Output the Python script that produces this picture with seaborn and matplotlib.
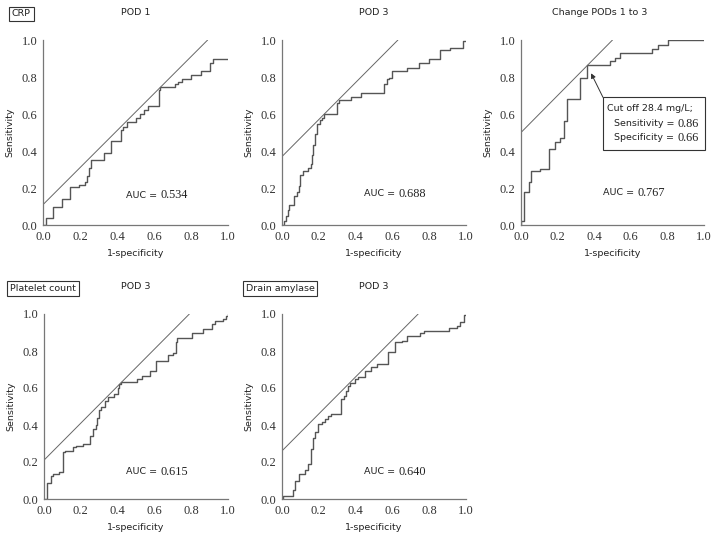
# ROC curves for CRP, platelet count and drain amylase (5 panels)
import pandas as pd
import seaborn as sns
from matplotlib import pyplot as plt
from matplotlib.patches import Rectangle

sns.set_theme(style="white")
plt.rcParams['font.family'] = ['DejaVu Sans']

# ---- data ------------------------------------------------------------
crp_pod1_fpr = [0, 0.018, 0.054, 0.105, 0.145, 0.195, 0.225, 0.24, 0.25, 0.262,
                0.331, 0.367, 0.421, 0.43, 0.452, 0.50, 0.525, 0.545, 0.565,
                0.625, 0.635, 0.711, 0.729, 0.752, 0.80, 0.852, 0.904, 0.918, 1.0]
crp_pod1_tpr = [0, 0.036, 0.10, 0.141, 0.205, 0.217, 0.23, 0.265, 0.31, 0.35,
                0.39, 0.453, 0.516, 0.53, 0.558, 0.58, 0.60, 0.62, 0.643,
                0.73, 0.745, 0.76, 0.774, 0.79, 0.81, 0.833, 0.873, 0.896, 0.896]

crp_pod3_fpr = [0, 0.01, 0.02, 0.03, 0.04, 0.065, 0.08, 0.09, 0.10, 0.115, 0.14,
                0.155, 0.165, 0.17, 0.18, 0.19, 0.205, 0.215, 0.23, 0.30, 0.31,
                0.375, 0.43, 0.556, 0.569, 0.582, 0.60, 0.678, 0.742, 0.80,
                0.856, 0.914, 0.982, 1.0]
crp_pod3_tpr = [0, 0.02, 0.05, 0.08, 0.11, 0.155, 0.18, 0.21, 0.27, 0.29, 0.31,
                0.33, 0.38, 0.43, 0.49, 0.545, 0.565, 0.58, 0.60, 0.66, 0.675,
                0.69, 0.715, 0.76, 0.787, 0.796, 0.832, 0.847, 0.874, 0.90,
                0.946, 0.959, 0.993, 0.993]

crp_change_fpr = [0, 0.0, 0.018, 0.042, 0.055, 0.105, 0.151, 0.187, 0.214, 0.233,
                  0.25, 0.32, 0.36, 0.484, 0.516, 0.542, 0.718, 0.75, 0.805, 1.0]
crp_change_tpr = [0, 0.02, 0.18, 0.23, 0.29, 0.305, 0.41, 0.45, 0.47, 0.56,
                  0.68, 0.795, 0.863, 0.887, 0.905, 0.932, 0.95, 0.974, 1.0, 1.0]

platelet_fpr = [0, 0.018, 0.036, 0.05, 0.083, 0.101, 0.114, 0.159, 0.174, 0.213,
                0.25, 0.265, 0.28, 0.29, 0.30, 0.31, 0.33, 0.35, 0.38, 0.40,
                0.41, 0.421, 0.503, 0.53, 0.575, 0.611, 0.675, 0.70, 0.716,
                0.725, 0.806, 0.864, 0.915, 0.927, 0.973, 0.991, 1.0]
platelet_tpr = [0, 0.087, 0.126, 0.135, 0.148, 0.252, 0.261, 0.279, 0.288, 0.297,
                0.34, 0.38, 0.40, 0.44, 0.48, 0.50, 0.53, 0.55, 0.57, 0.60,
                0.62, 0.635, 0.649, 0.667, 0.694, 0.748, 0.777, 0.79, 0.847,
                0.87, 0.90, 0.919, 0.946, 0.964, 0.973, 0.991, 1.0]

amylase_fpr = [0, 0.006, 0.06, 0.07, 0.09, 0.127, 0.142, 0.155, 0.16, 0.17,
               0.178, 0.193, 0.215, 0.236, 0.25, 0.265, 0.32, 0.338, 0.35, 0.36,
               0.37, 0.396, 0.415, 0.45, 0.484, 0.515, 0.578, 0.615, 0.65,
               0.678, 0.75, 0.77, 0.909, 0.95, 0.965, 0.99, 1.0]
amylase_tpr = [0, 0.018, 0.05, 0.095, 0.135, 0.158, 0.19, 0.20, 0.27, 0.33,
               0.364, 0.405, 0.414, 0.43, 0.45, 0.457, 0.54, 0.555, 0.585, 0.61,
               0.627, 0.647, 0.658, 0.694, 0.712, 0.73, 0.793, 0.847, 0.856,
               0.883, 0.90, 0.91, 0.922, 0.937, 0.955, 0.995, 0.995]

# intercepts of the slope-1 tangent lines (Youden index)
tangent_intercepts = [0.11, 0.37, 0.50, 0.21, 0.26]
auc_values = [0.534, 0.688, 0.767, 0.615, 0.640]
panel_titles = ["POD 1", "POD 3", "Change PODs 1 to 3", "POD 3", "POD 3"]
ticks = [0.0, 0.2, 0.4, 0.6, 0.8, 1.0]

# ---- figure ------------------------------------------------------------
W, H = 716, 539
fig = plt.figure(figsize=(W / 100, H / 100), dpi=100)


def px_axes(left, top, width, height):
    return fig.add_axes([left / W, 1 - (top + height) / H, width / W, height / H])


axes = [
    px_axes(43, 40, 185, 185),
    px_axes(282, 40, 184, 185),
    px_axes(521, 40, 183, 185),
    px_axes(44, 314, 184, 185),
    px_axes(282, 314, 184, 185),
]

curves = [
    (crp_pod1_fpr, crp_pod1_tpr),
    (crp_pod3_fpr, crp_pod3_tpr),
    (crp_change_fpr, crp_change_tpr),
    (platelet_fpr, platelet_tpr),
    (amylase_fpr, amylase_tpr),
]

SERIF = ['Liberation Serif', 'DejaVu Serif']
TXT = '#222222'
SANS_SIZE = 6.8
NUM_SIZE = 8.8
title_x = [0.5, 0.5, 0.43, 0.5, 0.5]
auc_y = [0.162, 0.17, 0.175, 0.148, 0.148]

for i, ax in enumerate(axes):
    fpr, tpr = curves[i]
    roc = pd.DataFrame({'fpr': fpr, 'tpr': tpr})
    sns.lineplot(data=roc, x='fpr', y='tpr', ax=ax, sort=False, estimator=None,
                 drawstyle='steps-post', color='#555555', linewidth=1.0)

    # tangent line y = x + c
    c = tangent_intercepts[i]
    sns.lineplot(x=[0, 1 - c], y=[c, 1], ax=ax, color='#666666',
                 linewidth=0.7, estimator=None)

    ax.set_xlim(0, 1)
    ax.set_ylim(0, 1)
    ax.set_xticks(ticks)
    ax.set_yticks(ticks)
    ax.set_xticklabels(['%.1f' % t for t in ticks], family=SERIF, fontsize=9, color='#333333')
    ax.set_yticklabels(['%.1f' % t for t in ticks], family=SERIF, fontsize=9, color='#333333')
    ax.tick_params(direction='in', length=3, width=0.8, color='#666666', pad=4)
    for side in ['top', 'right']:
        ax.spines[side].set_visible(False)
    for side in ['left', 'bottom']:
        ax.spines[side].set_color('#777777')
        ax.spines[side].set_linewidth(0.9)

    ax.set_xlabel('1-specificity', fontsize=SANS_SIZE, color=TXT)
    ax.set_ylabel('Sensitivity', fontsize=SANS_SIZE, color=TXT)
    ax.xaxis.set_label_coords(0.5, -0.13)
    ax.yaxis.set_label_coords(-0.157, 0.5)

    ax.text(title_x[i], 1.146, panel_titles[i], transform=ax.transAxes,
            ha='center', va='center', fontsize=SANS_SIZE, color=TXT)

    ax.text(0.633, auc_y[i], 'AUC = ', transform=ax.transAxes,
            ha='right', va='center', fontsize=SANS_SIZE, color=TXT)
    ax.text(0.635, auc_y[i], '%.3f' % auc_values[i], transform=ax.transAxes,
            ha='left', va='center', fontsize=NUM_SIZE, family=SERIF, color=TXT)

# cut-off annotation in the change panel
ax = axes[2]
ax.add_patch(Rectangle((0.448, 0.405), 0.557, 0.285, transform=ax.transAxes,
                       fill=False, edgecolor='#333333', linewidth=0.8, clip_on=False))
ax.annotate('', xy=(0.383, 0.82), xytext=(0.448, 0.69),
            arrowprops=dict(arrowstyle='-|>', color='#333333', lw=0.7,
                            mutation_scale=7, shrinkA=0, shrinkB=0))
ax.text(0.47, 0.63, 'Cut off 28.4 mg/L;', transform=ax.transAxes,
        ha='left', va='center', fontsize=SANS_SIZE, color=TXT)
ax.text(0.855, 0.548, 'Sensitivity = ', transform=ax.transAxes,
        ha='right', va='center', fontsize=SANS_SIZE, color=TXT)
ax.text(0.857, 0.548, '0.86', transform=ax.transAxes,
        ha='left', va='center', fontsize=NUM_SIZE, family=SERIF, color=TXT)
ax.text(0.855, 0.472, 'Specificity = ', transform=ax.transAxes,
        ha='right', va='center', fontsize=SANS_SIZE, color=TXT)
ax.text(0.857, 0.472, '0.66', transform=ax.transAxes,
        ha='left', va='center', fontsize=NUM_SIZE, family=SERIF, color=TXT)

# boxed marker labels
box = dict(boxstyle='square,pad=0.3', facecolor='white', edgecolor='#333333', linewidth=0.8)
fig.text(21.5 / W, 1 - 14 / H, 'CRP', ha='center', va='center', fontsize=SANS_SIZE,
         color=TXT, bbox=box)
fig.text(43 / W, 1 - 288.5 / H, 'Platelet count', ha='center', va='center',
         fontsize=SANS_SIZE, color=TXT, bbox=box)
fig.text(280 / W, 1 - 288.5 / H, 'Drain amylase', ha='center', va='center',
         fontsize=SANS_SIZE, color=TXT, bbox=box)

fig.savefig('out.png', dpi=100)
